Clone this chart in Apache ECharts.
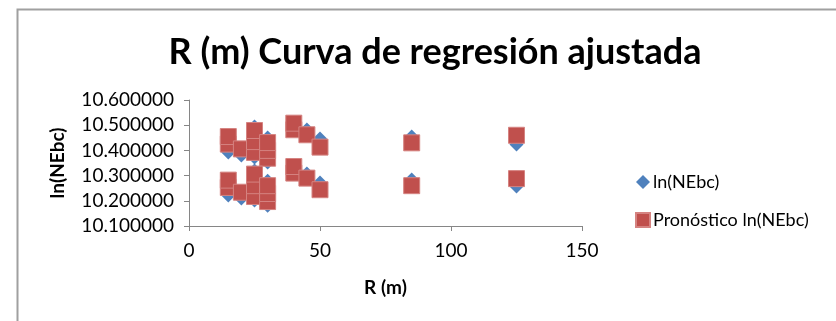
<!DOCTYPE html>
<html>
<head>
<meta charset="utf-8">
<title>R (m) Curva de regresión ajustada</title>
<script src="https://cdn.jsdelivr.net/npm/echarts@6.0.0/dist/echarts.min.js"></script>
<style>
  html, body { margin: 0; padding: 0; background: #fff; }
  #main { width: 836px; height: 321px; }
</style>
</head>
<body>
<div id="main"></div>
<script>
// R (m) for every observation
const rValues = [
  15, 15, 20, 25, 25, 25, 30, 30, 30, 40, 40, 45, 50, 85, 125,
  15, 15, 20, 25, 25, 25, 30, 30, 30, 40, 40, 45, 50, 85, 125
];
// ln(NEbc) observed
const lnNEbc = [
  10.392, 10.440, 10.380, 10.372, 10.450, 10.495, 10.352, 10.400, 10.451, 10.495, 10.500, 10.483, 10.447, 10.455, 10.423,
  10.221, 10.270, 10.209, 10.201, 10.280, 10.320, 10.180, 10.230, 10.280, 10.320, 10.330, 10.308, 10.273, 10.285, 10.257
];
// Pronóstico ln(NEbc)
const pronostico = [
  10.425, 10.455, 10.406, 10.392, 10.435, 10.479, 10.369, 10.400, 10.431, 10.482, 10.508, 10.462, 10.413, 10.430, 10.460,
  10.253, 10.282, 10.234, 10.217, 10.260, 10.306, 10.197, 10.229, 10.260, 10.310, 10.336, 10.290, 10.244, 10.260, 10.288
];
const xTicks = [0, 50, 100, 150];
const yTicks = [10.1, 10.2, 10.3, 10.4, 10.5, 10.6];

const font = 'Lato';
const axisGray = '#868686';

const chart = echarts.init(document.getElementById('main'));

const option = {
  animation: false,
  backgroundColor: '#fff',
  textStyle: { fontFamily: font },
  graphic: [{
    type: 'rect',
    shape: { x: 17.5, y: 9.5, width: 900, height: 400 },
    style: { fill: 'none', stroke: '#a0a0a0', lineWidth: 2 },
    silent: true
  }],
  title: {
    text: 'R (m) Curva de regresión ajustada',
    left: 430,
    top: 29,
    textAlign: 'center',
    textStyle: { fontFamily: font, fontSize: 36, fontWeight: 'bold', color: '#000' }
  },
  legend: {
    orient: 'vertical',
    left: 630,
    top: 168,
    itemWidth: 14,
    itemHeight: 14,
    itemGap: 20,
    textStyle: { fontFamily: font, fontSize: 18, color: '#000', lineHeight: 18, padding: [0, 0, 0, -2] },
    data: [
      { name: 'ln(NEbc)', icon: 'diamond' },
      { name: 'Pronóstico ln(NEbc)', icon: 'rect' }
    ]
  },
  grid: { left: 189, right: 254, top: 100, bottom: 95 },
  xAxis: {
    type: 'value',
    min: xTicks[0],
    max: xTicks[xTicks.length - 1],
    interval: xTicks[1] - xTicks[0],
    name: 'R (m)',
    nameLocation: 'middle',
    nameGap: 52,
    nameTextStyle: { fontFamily: font, fontSize: 19, fontWeight: 'bold', color: '#000' },
    axisLine: { onZero: false, lineStyle: { color: axisGray, width: 1 } },
    axisTick: { show: true, inside: false, length: 5, lineStyle: { color: axisGray } },
    axisLabel: { fontFamily: font, fontSize: 19, color: '#000', margin: 15 },
    splitLine: { show: false }
  },
  yAxis: {
    type: 'value',
    min: yTicks[0],
    max: yTicks[yTicks.length - 1],
    interval: 0.1,
    name: 'ln(NEbc)',
    nameLocation: 'middle',
    nameRotate: 90,
    nameGap: 122,
    nameTextStyle: { fontFamily: font, fontSize: 19, fontWeight: 'bold', color: '#000' },
    axisLine: { show: true, lineStyle: { color: axisGray, width: 1 } },
    axisTick: { show: true, inside: false, length: 5, lineStyle: { color: axisGray } },
    axisLabel: {
      fontFamily: font, fontSize: 19, color: '#000', margin: 15,
      formatter: v => v.toFixed(6)
    },
    splitLine: { show: false }
  },
  series: [
    {
      name: 'ln(NEbc)',
      type: 'scatter',
      symbol: 'diamond',
      symbolSize: 14,
      itemStyle: { color: '#4F81BD', opacity: 1 },
      data: rValues.map((r, i) => [r, lnNEbc[i]])
    },
    {
      name: 'Pronóstico ln(NEbc)',
      type: 'scatter',
      symbol: 'rect',
      symbolSize: 16,
      itemStyle: { color: '#C0504D', borderColor: '#d58381', borderWidth: 1, opacity: 1 },
      data: rValues.map((r, i) => [r, pronostico[i]])
    }
  ]
};

chart.setOption(option);
</script>
</body>
</html>
